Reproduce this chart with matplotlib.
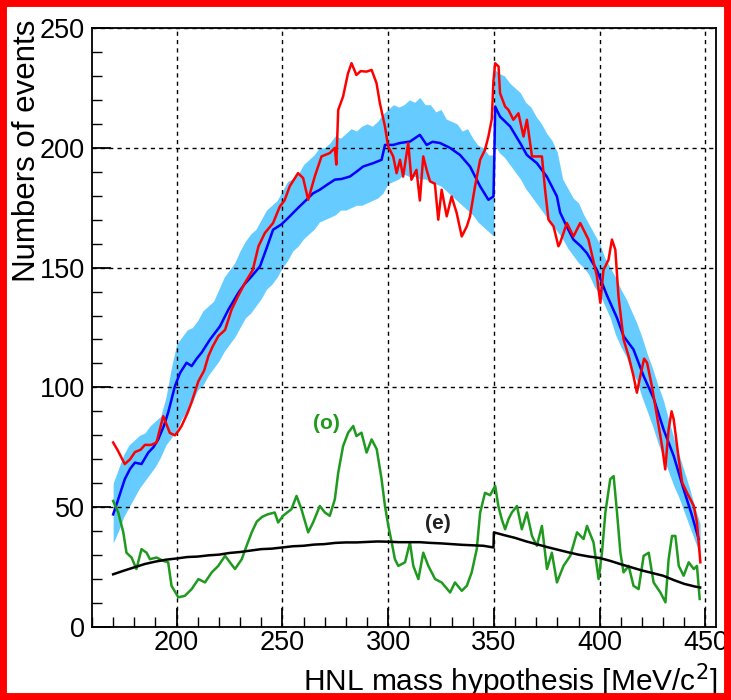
import matplotlib

matplotlib.use("Agg")
import matplotlib.pyplot as plt
from matplotlib.patches import Rectangle
from matplotlib.ticker import MultipleLocator

# HNL mass hypothesis [MeV/c^2] vs number of events

# expected background band (+-1 sigma)
band_mass = [
    170, 172.5, 175, 177.5, 180, 182.5, 185, 187.5, 190, 192.5,
    195, 197.5, 200, 202.5, 205, 207.5, 210, 212.5, 215, 217.5,
    220, 222.5, 225, 227.5, 230, 232.5, 235, 237.5, 240, 242.5,
    245, 247.5, 250, 252.5, 255, 257.5, 260, 262.5, 265, 267.5,
    270, 272.5, 275, 277.5, 280, 282.5, 285, 287.5, 290, 292.5,
    295, 297.5, 300, 302.5, 305, 307.5, 310, 312.5, 315, 317.5,
    320, 322.5, 325, 327.5, 330, 332.5, 335, 337.5, 340, 342.5,
    345, 347.5, 350, 350, 352.5, 355, 357.5, 360, 362.5, 365,
    367.5, 370, 372.5, 375, 377.5, 380, 382.5, 385, 387.5, 390,
    392.5, 395, 397.5, 400, 402.5, 405, 407.5, 410, 412.5, 415,
    417.5, 420, 422.5, 425, 427.5, 430, 432.5, 435, 437.5, 440,
    442.5, 445, 447.5,
]
band_high = [
    60, 66, 72, 76, 78, 80, 81, 84, 86, 88,
    96, 108, 118, 121, 124, 125, 128, 132, 134, 136,
    141, 146, 149, 152, 157, 161, 164, 166, 170, 174,
    176, 178, 182, 186, 187, 189, 193, 195, 197, 200,
    200, 202, 205, 204, 206, 208, 207, 209, 210, 209,
    211, 214, 216, 218, 217, 218, 220, 219, 221, 218,
    218, 215, 216, 212, 211, 210, 207, 208, 204, 201,
    200, 197, 197, 233, 231, 230, 227, 225, 223, 219,
    217, 213, 210, 206, 203, 198, 187, 183, 179, 177,
    172, 168, 164, 160, 154, 150, 146, 141, 137, 132,
    127, 121, 114, 108, 101, 95, 87, 79, 72, 65,
    58, 50, 43,
]
band_low = [
    35, 40, 46, 50, 54, 58, 61, 64, 67, 71,
    76, 79, 82, 87, 90, 94, 99, 101, 105, 108,
    111, 115, 118, 121, 125, 129, 131, 134, 137, 141,
    143, 146, 150, 153, 157, 159, 162, 164, 166, 169,
    170, 171, 172, 174, 174, 175, 176, 176, 177, 178,
    179, 181, 185, 186, 187, 189, 188, 188, 187, 187,
    186, 185, 184, 182, 180, 178, 176, 174, 172, 169,
    167, 165, 163, 202, 198, 196, 193, 190, 187, 183,
    180, 177, 174, 171, 168, 165, 162, 158, 155, 152,
    150, 147, 142, 139, 134, 129, 122, 117, 113, 107,
    103, 96, 90, 84, 77, 71, 65, 59, 54, 48,
    42, 36, 30,
]

# expected background (blue)
exp_mass = [
    170, 172.4, 175.5, 178, 180.3, 183.4, 186.6, 189, 191.3, 194,
    196, 199.2, 201.6, 204.7, 207.1, 209.5, 211.8, 215.8, 220.5, 224.5,
    229.2, 232, 235.5, 239.4, 242.5, 245.6, 249.5, 253.5, 257.5, 261.4,
    264.5, 267.7, 271, 274.8, 278, 281.9, 285, 288.2, 293, 296.9,
    298.5, 302.4, 305.6, 310.3, 315, 318.2, 321, 324.5, 329.2, 334,
    338.7, 343.5, 347.4, 349.8, 350.2, 350.6, 352.9, 357.7, 362.4, 365.6,
    370.3, 375, 379.8, 381.3, 384.5, 387.6, 391, 394, 398.7, 403.4,
    408.2, 411.3, 416, 420.8, 425.5, 430.2, 435, 439.7, 443.7, 446.8,
]
exp_events = [
    47, 53.3, 61.7, 66, 68.6, 68, 72.8, 75, 78.3, 84,
    89.5, 100.5, 106, 110.3, 108.9, 112, 114.5, 120, 125.5, 132.5,
    139.5, 143, 146.4, 150.5, 158, 165.8, 168, 171.4, 175, 178.3,
    181, 182.5, 184.5, 186.7, 187, 188, 190, 192.2, 193.6, 195,
    201.2, 201.2, 202, 202.6, 205.4, 201.2, 202.5, 202, 200, 197,
    192.2, 183.9, 178.3, 179.7, 196, 217.2, 213, 208.9, 202, 197,
    193.6, 188, 179.7, 173, 167, 161.7, 159, 156, 149, 138.5,
    129, 121.4, 115.8, 104.7, 95.5, 82.5, 71.4, 57.5, 46.4, 36.7,
]

# observed (red)
obs_mass = [
    170, 172, 175.5, 178, 180.3, 183, 185, 188, 190.5, 192.5,
    193.7, 195.5, 196.8, 199.2, 201, 202.4, 205, 207, 210.3, 213,
    215, 217, 219.7, 222.9, 226, 229, 232.3, 236, 238.7, 241.7,
    245.6, 248.8, 251, 253.5, 257.4, 259.8, 262.2, 265.3, 268.5, 272.4,
    274.8, 275.5, 276.4, 278.7, 281, 282.7, 285, 287, 289.8, 292.2,
    294.5, 296.1, 298.5, 300, 302.4, 304, 305.6, 307.1, 309.5, 311,
    313.4, 315, 316.6, 318.2, 319.8, 322.1, 323.7, 325.3, 327.7, 330,
    332.4, 334.8, 337.2, 338.7, 341.1, 343.5, 345.8, 347.4, 349, 349.8,
    350.6, 352.2, 352.9, 355.3, 356.9, 359.2, 361.6, 364, 365.6, 368,
    370.3, 372.7, 374.2, 375.8, 378.2, 380.5, 381.3, 384.5, 387.6, 390.8,
    394.7, 398.7, 400.3, 401.8, 404.2, 405.8, 407.4, 408.9, 411.3, 413.7,
    416, 417.6, 419.2, 421, 422.4, 424.7, 427.1, 429.5, 431, 432.6,
    434, 435, 437.4, 439, 441.3, 444.5, 446, 447.6,
]
obs_events = [
    77, 74, 68, 70, 73, 74, 76, 76, 77, 84,
    88, 84, 81, 80, 82, 84, 89, 93.6, 102.6, 107,
    113, 117, 121.4, 124, 132.5, 138, 143.6, 149, 158.9, 164.4,
    168.6, 175.5, 178, 184, 189.4, 187.4, 178.3, 188, 196.4, 197.8,
    200, 193, 215.8, 221.4, 231, 235.3, 230.4, 232, 231.8, 232.5,
    227, 218.6, 208.9, 200.6, 196.4, 189.4, 195, 188, 202, 186.7,
    190.8, 178, 196.4, 190.8, 186, 185, 170, 182.5, 171.4, 179.7,
    172.8, 163, 167.2, 171.4, 184, 195, 199.2, 204.7, 212, 228,
    235.3, 233.9, 222.8, 217.2, 215.8, 211.7, 214.4, 204.7, 211.7, 196.4,
    196.4, 196.4, 182.5, 170, 167.2, 158.9, 160.3, 168.6, 163, 168.6,
    161.7, 146.4, 135.3, 149, 153.3, 161.7, 157.5, 138, 120, 113,
    104.7, 97.8, 104.7, 112, 110.3, 100.5, 88, 75.5, 65.8, 82.5,
    90, 86.7, 70, 60.3, 56, 50.5, 43.6, 27,
]

# (o) curve (green)
o_mass = [
    170, 172.4, 174.8, 176.3, 178.7, 181, 183.4, 185.8, 187.4, 190.5,
    193.7, 196, 197.6, 200.8, 203.9, 207.1, 210.3, 213.4, 216.6, 219.7,
    222.9, 225.2, 227.6, 230.8, 233.1, 235.5, 237.9, 240.5, 243, 246.4,
    248, 250.3, 254.3, 256.7, 259, 262.2, 264.5, 267.7, 270.1, 272.4,
    274.8, 276.4, 278.7, 281.1, 283.5, 285, 287.4, 289.8, 292.2, 294.6,
    296.9, 298.5, 300.1, 301.7, 303.2, 304.8, 308, 310.3, 311.9, 314.3,
    316.6, 319, 322.2, 325.3, 329.3, 331.6, 334.8, 337.2, 339.5, 341.9,
    343.5, 345.8, 348.2, 350.6, 352.1, 353.7, 355.3, 356.9, 358.5, 360.9,
    363.2, 365.6, 368, 370.3, 372.7, 375.1, 377.4, 379.8, 382.9, 386.1,
    389.3, 392.4, 394, 397.1, 399.5, 401.1, 402.7, 405, 406.6, 408.2,
    409.8, 411.3, 413.7, 416, 418.4, 420.8, 423.2, 425.5, 428.7, 431.1,
    432.6, 434.2, 435.8, 437.4, 439.7, 442.1, 444.5, 446, 447.3,
]
o_events = [
    52.6, 47.8, 39.5, 31, 29, 24.2, 32.5, 31, 28.3, 29,
    27.6, 27, 17.2, 12.4, 13, 15.8, 20, 18.6, 22.8, 25.5,
    29.7, 27, 24.2, 28.3, 33.9, 39.5, 44, 46, 47, 47.8,
    43.6, 46.4, 49.2, 54.7, 49.2, 39.5, 43.6, 50.5, 47.8, 46.4,
    53.3, 64.4, 75.5, 81.1, 83.9, 79.7, 81.1, 72.8, 78.3, 74.2,
    61.7, 50.5, 42.2, 35.3, 28.3, 25.5, 27, 35.3, 25.5, 20,
    31, 25.5, 20, 18.6, 14.4, 18.6, 15.1, 17.2, 22.8, 32.5,
    47.8, 56, 55, 58.9, 50.5, 45, 40.8, 45, 47.8, 50.5,
    40.8, 47.8, 38, 33.9, 42.2, 24.2, 31, 18.6, 25.5, 29.7,
    39.5, 36.7, 42.2, 35.3, 20, 31, 47.8, 61.7, 63, 47.8,
    31, 22.8, 25.5, 17.2, 15.8, 29.7, 31, 18.6, 14.4, 10.3,
    28.3, 38, 38, 25.5, 21.4, 27, 24.2, 25.5, 11.7,
]

# (e) curve (black)
e_mass = [
    170, 175, 180, 185, 190, 195, 200, 205, 210, 215,
    220, 225, 230, 235, 240, 245, 250, 255, 260, 265,
    270, 275, 280, 285, 290, 295, 300, 305, 310, 315,
    320, 325, 330, 335, 340, 345, 349.8, 350, 355, 360,
    365, 370, 375, 380, 385, 390, 395, 400, 405, 410,
    415, 420, 425, 430, 435, 440, 445, 447.5,
]
e_events = [
    22, 23.5, 24.9, 26.3, 27.3, 28.1, 28.6, 29.2, 29.4, 29.9,
    30.2, 30.9, 31.3, 31.9, 32.5, 32.7, 33.2, 33.7, 33.9, 34.4,
    34.6, 35.1, 35.3, 35.3, 35.5, 35.7, 35.6, 35.4, 35.4, 35.4,
    35.1, 34.9, 34.6, 34.3, 34.1, 33.9, 33.2, 39.5, 38.3, 37.2,
    35.8, 34.6, 33.4, 32.3, 31.2, 30.2, 29.4, 28.8, 27.6, 26.2,
    24.9, 23.6, 22.5, 21.4, 19.6, 18.0, 16.9, 16.5,
]

plt.rcParams["font.family"] = ["Liberation Sans", "DejaVu Sans"]

fig = plt.figure(figsize=(7.31, 7.0), dpi=100)
W, H = 731.0, 700.0
ax = fig.add_axes([92 / W, 1 - 627 / H, (716 - 92) / W, (627 - 28) / H])

ax.fill_between(band_mass, band_low, band_high, color="#66ccff", lw=0, zorder=1)
ax.plot(exp_mass, exp_events, color="#0000ff", lw=1.8, zorder=2)
ax.plot(obs_mass, obs_events, color="#ff0000", lw=1.8, zorder=3)
ax.plot(o_mass, o_events, color="#1f9a1f", lw=1.8, zorder=3)
ax.plot(e_mass, e_events, color="black", lw=1.8, zorder=4)

ax.text(271, 85, "(o)", color="#1f9a1f", fontsize=15, fontweight="bold",
        ha="center", va="center")
ax.text(323.5, 43, "(e)", color="#222222", fontsize=15, fontweight="bold",
        ha="center", va="center")

ax.set_xlim(160, 455)
ax.set_ylim(0, 250)
ax.xaxis.set_major_locator(MultipleLocator(50))
ax.xaxis.set_minor_locator(MultipleLocator(10))
ax.yaxis.set_major_locator(MultipleLocator(50))
ax.yaxis.set_minor_locator(MultipleLocator(10))
ax.tick_params(which="both", direction="in", top=False, right=False,
               labelsize=19.5, color="black")
ax.tick_params(which="major", length=14, width=1.3)
ax.tick_params(which="minor", length=7, width=1.0)
ax.tick_params(axis="x", which="major", pad=2.5)
ax.tick_params(axis="y", which="major", pad=5)
ax.grid(True, which="major", color="black", ls=(0, (3, 3)), lw=1.0)
for spine in ax.spines.values():
    spine.set_linewidth(1.3)

ax.set_xlabel("HNL mass hypothesis [MeV/c$^{2}$]", fontsize=21.5, loc="right")
ax.xaxis.set_label_coords(1.003, -0.0576)
ax.set_ylabel("Numbers of events", fontsize=22.5, loc="top")
ax.yaxis.set_label_coords(-0.08, 1.014)

# red frame round the whole canvas
fig.patches.append(Rectangle((0, 0), 1, 1, transform=fig.transFigure,
                             fill=False, edgecolor="#ff0000", lw=10,
                             zorder=10))

fig.savefig("out.png", dpi=100)
